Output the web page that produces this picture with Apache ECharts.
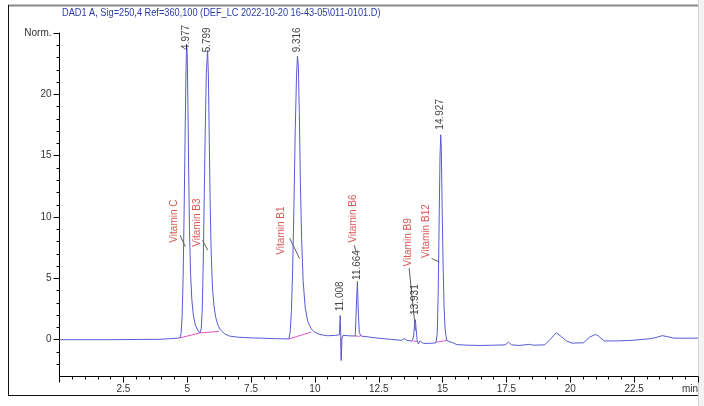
<!DOCTYPE html>
<html>
<head>
<meta charset="utf-8">
<script src="https://cdn.jsdelivr.net/npm/echarts@6/dist/echarts.min.js"></script>
<style>
html,body{margin:0;padding:0;background:#fff;}
#chart{width:704px;height:406px;}
</style>
</head>
<body>
<div id="chart"></div>
<script>
// ---- data ----
const titleText = 'DAD1 A, Sig=250,4 Ref=360,100 (DEF_LC 2022-10-20 16-43-05\\011-0101.D)';

const traceTime = [
  0, 1.0, 2.0, 3.0, 3.9, 4.3, 4.6, 4.72, 4.76, 4.80, 4.84, 4.88, 4.92, 4.95, 4.977, 5.00, 5.03, 5.06, 5.09, 5.13,
  5.18, 5.24, 5.32, 5.42, 5.50, 5.55, 5.59, 5.63, 5.67, 5.71, 5.75, 5.799, 5.83, 5.86, 5.90, 5.94, 5.99, 6.05, 6.12, 6.20,
  6.30, 6.45, 6.65, 7.00, 7.50, 8.00, 8.50, 8.98, 9.03, 9.08, 9.13, 9.18, 9.23, 9.28, 9.316, 9.35, 9.39, 9.43, 9.48, 9.54,
  9.62, 9.72, 9.85, 10.0, 10.2, 10.5, 10.8, 10.96, 10.99, 11.01, 11.03, 11.06, 11.10, 11.3, 11.58, 11.62, 11.664, 11.70, 11.74, 11.80,
  12.0, 12.5, 13.0, 13.40, 13.50, 13.60, 13.80, 13.86, 13.90, 13.931, 13.96, 14.00, 14.05, 14.12, 14.18, 14.24, 14.50, 14.74, 14.79, 14.83,
  14.87, 14.90, 14.927, 14.95, 14.98, 15.02, 15.06, 15.10, 15.16, 15.25, 15.32, 15.40, 15.55, 16.0, 16.5, 17.0, 17.45, 17.58, 17.70, 18.0,
  18.40, 18.55, 19.0, 19.20, 19.45, 19.65, 19.85, 20.07, 20.52, 20.75, 20.98, 21.10, 21.33, 21.8, 22.35, 23.14, 23.40, 23.60, 23.80, 24.05,
  24.5, 25.0
];
const traceSignal = [
  0, 0, 0, 0.02, 0.03, 0.08, 0.12, 0.15, 0.5, 1.8, 5, 10.5, 17, 21.5, 24.1, 23.3, 19, 13.5, 9, 5.5,
  3.3, 2.0, 1.2, 0.75, 0.55, 0.9, 2.5, 6.5, 12, 17.5, 21.8, 23.6, 21.5, 17, 11, 7, 4.2, 2.7, 1.8, 1.2,
  0.8, 0.5, 0.3, 0.2, 0.15, 0.12, 0.08, 0.06, 0.6, 2.3, 5.8, 11, 17, 21.5, 23.1, 22.4, 18.5, 13, 8.2, 4.8,
  2.6, 1.5, 0.9, 0.6, 0.42, 0.32, 0.35, 0.4, 1.97, 0.5, -1.7, 0.1, 0.35, 0.32, 0.3, 2.5, 4.75, 2.2, 0.6, 0.3,
  0.25, 0.12, 0.02, -0.05, 0.1, -0.05, -0.12, 0.2, 1.2, 1.63, 1.0, 0.0, -0.35, -0.1, 0.0, -0.3, -0.3, -0.25, 0.5, 4,
  10.5, 15, 16.7, 15.5, 11, 6, 2.5, 0.8, -0.05, -0.15, 0.0, -0.25, -0.4, -0.45, -0.47, -0.45, -0.42, -0.2, -0.42, -0.47,
  -0.38, -0.45, -0.42, 0.0, 0.57, 0.25, -0.1, -0.28, -0.25, 0.2, 0.43, 0.3, -0.1, -0.1, -0.06, 0.08, 0.2, 0.33, 0.25, 0.13,
  0.12, 0.13
];

const peakLabels = ['4.977', '5.799', '9.316', '11.008', '11.664', '13.931', '14.927'];
const peakTimes = [4.977, 5.799, 9.316, 11.008, 11.664, 13.931, 14.927];
const peakLabelY = [23.5, 23.3, 23.3, 2.2, 4.75, 1.9, 17.0];

const compoundNames = ['Vitamin C', 'Vitamin B3', 'Vitamin B1', 'Vitamin B6', 'Vitamin B9', 'Vitamin B12'];
const compoundX = [4.50, 5.39, 8.69, 11.50, 13.65, 14.35];
const compoundY = [7.87, 7.54, 6.89, 7.87, 5.93, 6.62];

// leader lines from compound names to peaks: [x1, y1, x2, y2]
const leaderLines = [
  [4.72, 8.52, 4.93, 7.57],
  [5.60, 8.11, 5.80, 7.30],
  [9.01, 8.28, 9.40, 6.62],
  [11.54, 7.70, 11.62, 7.13],
  [13.69, 5.83, 13.94, 0.76],
  [14.57, 6.62, 14.87, 6.34]
];

// integration baselines: [x1, y1, x2, y2]
const integrationBaselines = [
  [4.72, 0.15, 5.50, 0.55],
  [5.50, 0.55, 6.24, 0.68],
  [8.98, 0.06, 9.86, 0.62],
  [11.02, 0.2, 11.03, -1.5],
  [11.58, 0.3, 11.76, 0.28],
  [13.85, -0.1, 14.02, -0.15],
  [14.77, -0.2, 15.16, -0.06]
];

const xTickInterval = 2.5;
const yTickValues = [0, 5, 10, 15, 20, 25];
const yTickLabels = ['0', '5', '10', '15', '20', 'Norm.'];
const yMinorTicks = [-2, -1, 1, 2, 3, 4, 6, 7, 8, 9, 11, 12, 13, 14, 16, 17, 18, 19, 21, 22, 23, 24];

// ---- chart ----
const FONT = 'Liberation Sans, Arial, sans-serif';
const chart = echarts.init(document.getElementById('chart'), null, {renderer: 'canvas'});

const segSeries = (segs, color, width) => segs.map(s => ({
  type: 'line',
  data: [[s[0], s[1]], [s[2], s[3]]],
  symbol: 'none',
  silent: true,
  animation: false,
  lineStyle: {color: color, width: width},
  z: 3
}));

const option = {
  animation: false,
  backgroundColor: '#ffffff',
  grid: {left: 59.5, right: 6, top: 33, bottom: 29.5, containLabel: false},
  xAxis: {
    type: 'value',
    min: 0,
    max: 25,
    interval: xTickInterval,
    axisLine: {show: true, onZero: false, lineStyle: {color: '#000', width: 1}},
    axisTick: {show: true, length: 6, lineStyle: {color: '#000'}},
    minorTick: {show: true, splitNumber: 5, length: 3, lineStyle: {color: '#000'}},
    splitLine: {show: false},
    axisLabel: {
      fontFamily: FONT, fontSize: 10, color: '#333', margin: 8,
      alignMaxLabel: 'right',
      formatter: v => v === 0 ? '' : (v === 25 ? 'min' : String(v))
    }
  },
  yAxis: [{
    type: 'value',
    min: -3,
    max: 25,
    axisLine: {show: true, onZero: false, lineStyle: {color: '#000', width: 1}},
    axisTick: {show: true, length: 6, customValues: yTickValues, lineStyle: {color: '#000'}},
    splitLine: {show: false},
    axisLabel: {
      fontFamily: FONT, fontSize: 10, color: '#333', margin: 8,
      customValues: yTickValues,
      formatter: v => yTickLabels[yTickValues.indexOf(v)] ?? ''
    }
  }, {
    type: 'value',
    min: -3,
    max: 25,
    position: 'left',
    offset: 0,
    axisLine: {show: false},
    axisTick: {show: true, length: 3, customValues: yMinorTicks, lineStyle: {color: '#000'}},
    axisLabel: {show: false},
    splitLine: {show: false}
  }],
  graphic: [
    {type: 'rect', shape: {x: 698, y: 0, width: 6, height: 406}, style: {fill: '#f3f3f3'}, silent: true},
    {type: 'line', shape: {x1: 698.5, y1: 0, x2: 698.5, y2: 406}, style: {stroke: '#d4d4d4', lineWidth: 1}, silent: true},
    {type: 'line', shape: {x1: 8, y1: 5.5, x2: 698, y2: 5.5}, style: {stroke: '#8a8a8a', lineWidth: 2}, silent: true},
    {type: 'line', shape: {x1: 8.5, y1: 5, x2: 8.5, y2: 396}, style: {stroke: '#111', lineWidth: 1}, silent: true},
    {type: 'line', shape: {x1: 8, y1: 395.5, x2: 698, y2: 395.5}, style: {stroke: '#111', lineWidth: 1}, silent: true},
    {
      type: 'text', x: 62, y: 13, scaleX: 0.92, silent: true,
      style: {text: titleText, fontFamily: FONT, fontSize: 10, fill: '#2a3ca8', verticalAlign: 'middle', align: 'left'}
    }
  ],
  series: [
    ...segSeries(integrationBaselines, '#e055c8', 1),
    {
      type: 'line',
      name: 'DAD1 A',
      data: traceTime.map((t, i) => [t, traceSignal[i]]),
      symbol: 'none',
      lineStyle: {color: '#5a5ad2', width: 1},
      clip: true,
      z: 4
    },
    ...segSeries(leaderLines, '#333', 0.8),
    {
      type: 'scatter',
      data: peakTimes.map((t, i) => [t, peakLabelY[i], peakLabels[i]]),
      symbolSize: 1,
      itemStyle: {color: 'rgba(0,0,0,0)'},
      silent: true,
      z: 5,
      label: {
        show: true, position: 'top', distance: 1, rotate: 90,
        align: 'left', verticalAlign: 'middle',
        fontFamily: FONT, fontSize: 10, color: '#111',
        formatter: p => p.data[2]
      }
    },
    {
      type: 'scatter',
      data: compoundX.map((x, i) => [x, compoundY[i], compoundNames[i]]),
      symbolSize: 1,
      itemStyle: {color: 'rgba(0,0,0,0)'},
      silent: true,
      z: 5,
      label: {
        show: true, position: 'top', distance: 0, rotate: 90,
        align: 'left', verticalAlign: 'middle',
        fontFamily: FONT, fontSize: 10, color: '#d12b2b',
        formatter: p => p.data[2]
      }
    }
  ]
};
chart.setOption(option);
</script>
</body>
</html>
